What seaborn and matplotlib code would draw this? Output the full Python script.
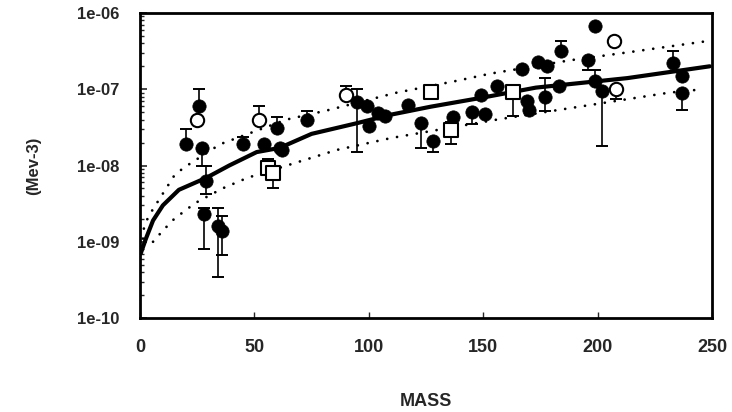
import numpy as np
import pandas as pd
import matplotlib
matplotlib.use("Agg")
import matplotlib.pyplot as plt
from matplotlib.ticker import FixedLocator, LogLocator, NullFormatter
import seaborn as sns

# ---- measured points: mass, density, lower / upper end of the error bar (nan = none)
filled_mass = [20, 26, 27, 29, 28, 34, 36, 45, 54, 60, 61, 62, 73, 95, 99, 100, 104, 107,
               117, 123, 128, 137, 145, 151, 149, 156, 167, 169, 170, 174, 178, 177,
               183, 184, 196, 199, 199, 202, 233, 237, 237]
filled_dens = [1.9e-8, 6.0e-8, 1.7e-8, 6.3e-9, 2.3e-9, 1.6e-9, 1.4e-9, 1.9e-8, 1.9e-8, 3.1e-8,
               1.7e-8, 1.6e-8, 4.0e-8, 6.9e-8, 6.0e-8, 3.3e-8, 4.9e-8, 4.5e-8,
               6.2e-8, 3.6e-8, 2.1e-8, 4.3e-8, 5.0e-8, 4.8e-8, 8.5e-8, 1.1e-7, 1.87e-7, 7.0e-8,
               5.3e-8, 2.3e-7, 2.0e-7, 8.0e-8, 1.1e-7, 3.2e-7, 2.4e-7, 6.7e-7, 1.3e-7, 9.5e-8,
               2.2e-7, 1.5e-7, 9.0e-8]
filled_lo = [np.nan, np.nan, 1.0e-8, 4.2e-9, 8.0e-10, 3.5e-10, 6.8e-10, np.nan, np.nan, np.nan,
             np.nan, np.nan, np.nan, 1.5e-8, np.nan, np.nan, np.nan, np.nan,
             np.nan, 1.7e-8, 1.5e-8, 3.0e-8, 3.5e-8, np.nan, np.nan, np.nan, np.nan, np.nan,
             np.nan, np.nan, np.nan, 5.2e-8, np.nan, np.nan, 1.8e-7, np.nan, np.nan, 1.8e-8,
             np.nan, np.nan, 5.3e-8]
filled_hi = [3.0e-8, 1.0e-7, np.nan, 1.0e-8, 2.8e-9, 2.8e-9, 2.2e-9, 2.4e-8, np.nan, 4.3e-8,
             np.nan, np.nan, 5.2e-8, 1.0e-7, np.nan, np.nan, np.nan, np.nan,
             np.nan, np.nan, np.nan, np.nan, np.nan, np.nan, np.nan, np.nan, np.nan, np.nan,
             np.nan, np.nan, np.nan, 1.4e-7, np.nan, 4.3e-7, np.nan, np.nan, 1.8e-7, np.nan,
             3.2e-7, np.nan, np.nan]

open_circle_mass = [25, 52, 90, 207, 208]
open_circle_dens = [4.0e-8, 4.0e-8, 8.3e-8, 4.3e-7, 1.0e-7]
open_circle_lo = [np.nan, np.nan, np.nan, np.nan, 7.5e-8]
open_circle_hi = [np.nan, 6.0e-8, 1.1e-7, np.nan, np.nan]

square_mass = [56, 58, 127, 136, 163]
square_dens = [9.3e-9, 8.0e-9, 9.3e-8, 2.9e-8, 9.3e-8]
square_lo = [np.nan, 5.1e-9, np.nan, 1.9e-8, 4.5e-8]
square_hi = [1.2e-8, np.nan, np.nan, 3.7e-8, np.nan]

# ---- fitted curve and its upper / lower bands
fit_mass = [0.3, 2.6, 5.7, 10, 17, 29, 39, 51, 61, 75, 95, 109, 127, 150, 173, 213, 249]
fit_dens = [7e-10, 1.1e-9, 1.9e-9, 3.0e-9, 4.8e-9, 6.9e-9, 1.0e-8, 1.5e-8, 1.7e-8, 2.6e-8,
            3.6e-8, 4.6e-8, 5.9e-8, 7.8e-8, 1.05e-7, 1.4e-7, 2.0e-7]
upper_mass = [1.3, 1.7, 2.6, 3.9, 15, 19, 35, 64, 82, 112, 139, 153, 188, 215, 246]
upper_dens = [1.1e-9, 1.5e-9, 1.8e-9, 2.2e-9, 7.4e-9, 9.3e-9, 1.9e-8, 4.0e-8, 5.3e-8, 9.0e-8,
              1.3e-7, 1.6e-7, 2.4e-7, 3.1e-7, 4.2e-7]
lower_mass = [5.7, 10, 15, 24, 36, 47, 86, 110, 156, 231, 246]
lower_dens = [1.0e-9, 1.4e-9, 2.0e-9, 3.2e-9, 5.0e-9, 6.9e-9, 1.6e-8, 2.3e-8, 4.0e-8, 9.0e-8, 1.0e-7]

x_ticks = [0, 50, 100, 150, 200, 250]
y_ticks = [1e-10, 1e-9, 1e-8, 1e-7, 1e-6]
y_tick_labels = ["1e-10", "1e-09", "1e-08", "1e-07", "1e-06"]

sns.set_style("white")
plt.rcParams["font.family"] = ["Liberation Sans", "DejaVu Sans"]
plt.rcParams["font.weight"] = "bold"

fig = plt.figure(figsize=(7.32, 4.12), dpi=100)
ax = fig.add_axes([140 / 732, 1 - 318 / 412, 572 / 732, 305 / 412])


def draw_errors(mass, dens, lo, hi):
    mass = np.asarray(mass, float)
    dens = np.asarray(dens, float)
    lo = np.asarray(lo, float)
    hi = np.asarray(hi, float)
    for ends, side in ((lo, 0), (hi, 1)):
        keep = ~np.isnan(ends)
        if not keep.any():
            continue
        d = np.abs(ends[keep] - dens[keep])
        zero = np.zeros_like(d)
        yerr = [d, zero] if side == 0 else [zero, d]
        ax.errorbar(mass[keep], dens[keep], yerr=yerr, fmt="none", ecolor="black",
                    elinewidth=1.2, capsize=4.3, capthick=1.4, zorder=2)


draw_errors(filled_mass, filled_dens, filled_lo, filled_hi)
draw_errors(open_circle_mass, open_circle_dens, open_circle_lo, open_circle_hi)
draw_errors(square_mass, square_dens, square_lo, square_hi)

fit_df = pd.DataFrame({"MASS": fit_mass, "dens": fit_dens})
upper_df = pd.DataFrame({"MASS": upper_mass, "dens": upper_dens})
lower_df = pd.DataFrame({"MASS": lower_mass, "dens": lower_dens})

sns.lineplot(data=fit_df, x="MASS", y="dens", ax=ax, color="black", linewidth=3.0,
             sort=False, estimator=None, zorder=3)
for band in (upper_df, lower_df):
    sns.lineplot(data=band, x="MASS", y="dens", ax=ax, color="black", linewidth=2.0,
                 linestyle=(0, (0.01, 3.6)), sort=False, estimator=None, zorder=3)
for line in ax.lines[-2:]:
    line.set_dash_capstyle("round")

sns.scatterplot(x=filled_mass, y=filled_dens, ax=ax, marker="o", s=92,
                color="black", edgecolor="black", linewidth=0.5, zorder=4)
sns.scatterplot(x=open_circle_mass, y=open_circle_dens, ax=ax, marker="o", s=92,
                facecolor="white", edgecolor="black", linewidth=1.5, zorder=4)
sns.scatterplot(x=square_mass, y=square_dens, ax=ax, marker="s", s=95,
                facecolor="white", edgecolor="black", linewidth=1.5, zorder=4)

ax.set_yscale("log")
ax.set_xlim(0, 250)
ax.set_ylim(1e-10, 1e-6)

ax.xaxis.set_major_locator(FixedLocator(x_ticks))
ax.set_xticklabels([str(t) for t in x_ticks])
ax.yaxis.set_major_locator(FixedLocator(y_ticks))
ax.set_yticklabels(y_tick_labels)
ax.yaxis.set_minor_locator(LogLocator(base=10, subs=np.arange(2, 10)))
ax.yaxis.set_minor_formatter(NullFormatter())

ax.tick_params(axis="x", which="major", direction="in", length=4, width=1.0,
               pad=15, labelsize=13, bottom=True, top=False)
ax.tick_params(axis="y", which="major", direction="in", length=5, width=1.2,
               pad=15, labelsize=12, left=True, right=False)
ax.tick_params(axis="y", which="minor", direction="in", length=3, width=1.0,
               left=True, right=False)
for lbl in ax.get_xticklabels() + ax.get_yticklabels():
    lbl.set_fontweight("bold")

for spine in ax.spines.values():
    spine.set_visible(True)
    spine.set_color("black")
    spine.set_linewidth(2.0)

ax.set_xlabel("MASS", fontsize=13, fontweight="bold", labelpad=27)
ax.set_ylabel("(Mev-3)", fontsize=12, fontweight="bold", labelpad=26)
ax.grid(False)

fig.savefig("out.png", dpi=100)
